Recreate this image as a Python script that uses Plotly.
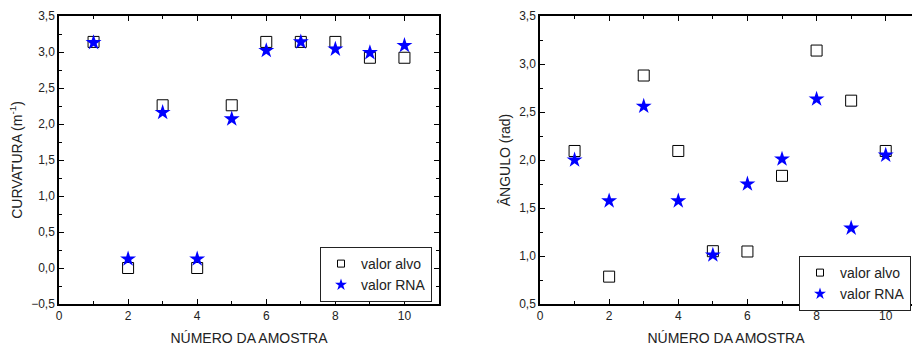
import plotly.graph_objects as go

amostra = [1, 2, 3, 4, 5, 6, 7, 8, 9, 10]
curv_alvo = [3.14, 0.0, 2.26, 0.0, 2.26, 3.14, 3.14, 3.14, 2.92, 2.92]
curv_rna = [3.13, 0.125, 2.16, 0.125, 2.07, 3.02, 3.14, 3.04, 2.99, 3.09]
ang_alvo = [2.094, 0.785, 2.88, 2.094, 1.05, 1.047, 1.835, 3.14, 2.618, 2.094]
ang_rna = [2.00, 1.574, 2.56, 1.574, 1.01, 1.75, 2.01, 2.635, 1.29, 2.05]

FONT = "Liberation Sans, Arial, sans-serif"
sq = dict(symbol="square-open", size=11, color="black", line=dict(width=1, color="black"))
st = dict(symbol="star", size=12, color="#0000FF", line=dict(width=0))
sq_leg = dict(symbol="square-open", size=7, color="black", line=dict(width=1, color="black"))
st_leg = dict(symbol="star", size=9, color="#0000FF", line=dict(width=0))

fig = go.Figure()
for xa, ya, lg, alvo, rna in [("x", "y", "legend", curv_alvo, curv_rna),
                              ("x2", "y2", "legend2", ang_alvo, ang_rna)]:
    fig.add_trace(go.Scatter(x=amostra, y=alvo, mode="markers", marker=sq, showlegend=False,
                             xaxis=xa, yaxis=ya))
    fig.add_trace(go.Scatter(x=amostra, y=rna, mode="markers", marker=st, showlegend=False,
                             xaxis=xa, yaxis=ya))
    fig.add_trace(go.Scatter(x=[None], y=[None], mode="markers", marker=sq_leg, name="valor alvo",
                             xaxis=xa, yaxis=ya, legend=lg))
    fig.add_trace(go.Scatter(x=[None], y=[None], mode="markers", marker=st_leg, name="valor RNA",
                             xaxis=xa, yaxis=ya, legend=lg))

W, H = 912, 347
ydom = [1 - 304 / H, 1 - 16 / H]

def xax(dom, rng, mirror):
    return dict(domain=dom, range=rng, tickvals=[0, 2, 4, 6, 8, 10], ticks="inside", ticklen=5,
                tickwidth=1, tickcolor="black", showline=True, linecolor="black", linewidth=1.5,
                mirror=mirror, showgrid=False, zeroline=False, automargin=False,
                minor=dict(dtick=1, tick0=0, ticks="inside", ticklen=3, tickcolor="black", showgrid=False),
                tickfont=dict(size=12, family=FONT, color="#222"),
                title=dict(text="NÚMERO DA AMOSTRA", font=dict(size=14, family=FONT, color="#222"), standoff=11))

def yax(anchor, rng, title, mirror):
    return dict(domain=ydom, range=rng, anchor=anchor, dtick=0.5, tick0=0, tickformat=".1f",
                ticks="inside", ticklen=5, tickwidth=1, tickcolor="black", showline=True,
                linecolor="black", linewidth=1.5, mirror=mirror, showgrid=False, zeroline=False,
                automargin=False,
                minor=dict(dtick=0.25, tick0=0, ticks="inside", ticklen=3, tickcolor="black", showgrid=False),
                tickfont=dict(size=12, family=FONT, color="#222"),
                title=dict(text=title, font=dict(size=14, family=FONT, color="#222"), standoff=5))

fig.update_layout(
    width=W, height=H, margin=dict(l=0, r=0, t=0, b=0, autoexpand=False),
    paper_bgcolor="white", plot_bgcolor="white", separators=",.",
    xaxis=dict(anchor="y", **xax([59 / W, 439 / W], [0, 11], "allticks")),
    yaxis=yax("x", [-0.5, 3.5], "CURVATURA (m<sup>-1</sup>)", "allticks"),
    xaxis2=dict(anchor="y2", **xax([540 / W, 1.0], [0, 10.76], "allticks")),
    yaxis2=yax("x2", [0.5, 3.5], "ÂNGULO (rad)", False),
    legend=dict(x=320 / W, y=1 - 247 / H, xanchor="left", yanchor="top", bordercolor="#222",
                borderwidth=1, bgcolor="white", font=dict(size=14, family=FONT, color="#222"),
                tracegroupgap=0, itemwidth=30),
    legend2=dict(x=799 / W, y=1 - 256 / H, xanchor="left", yanchor="top", bordercolor="#222",
                 borderwidth=1, bgcolor="white", font=dict(size=14, family=FONT, color="#222"),
                 tracegroupgap=0, itemwidth=30),
)

fig.write_html("out.html", config={"displayModeBar": False},
               post_script="document.body.style.margin='0';")
